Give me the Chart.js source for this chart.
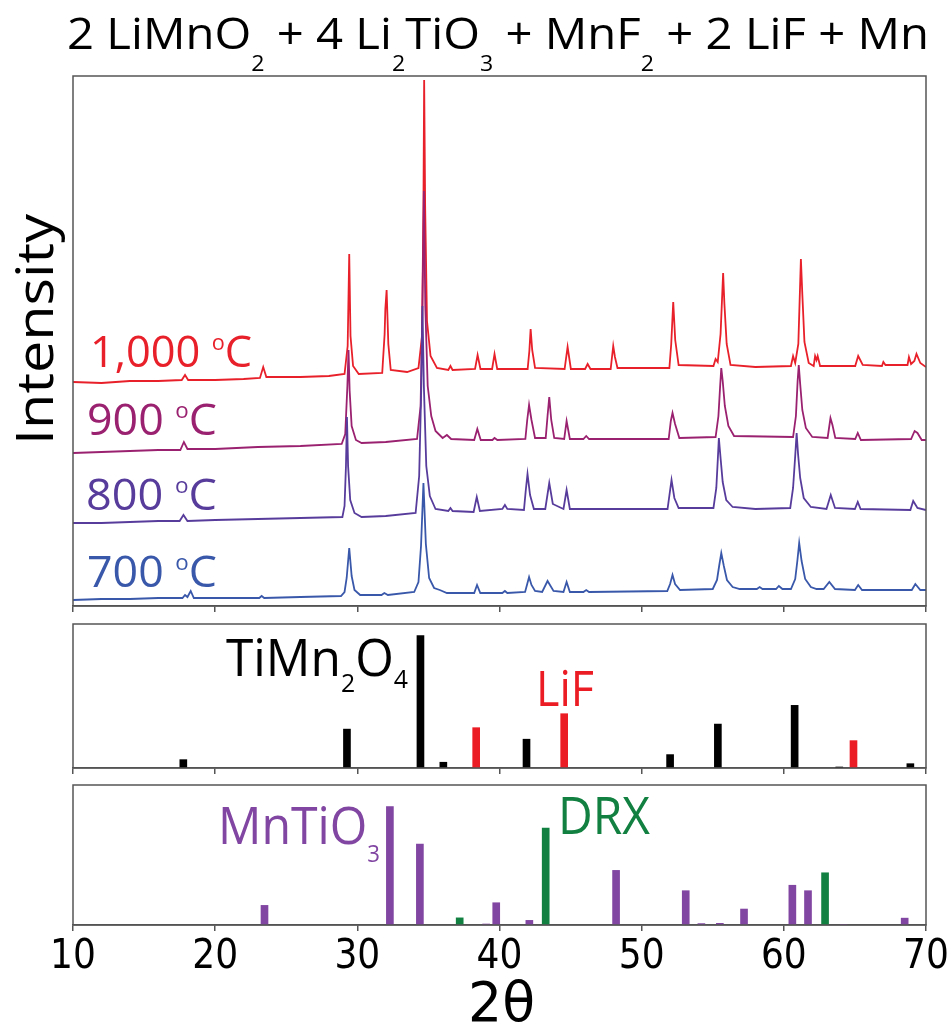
<!DOCTYPE html>
<html>
<head>
<meta charset="utf-8">
<script src="https://cdn.jsdelivr.net/npm/chart.js@4.4.1/dist/chart.umd.min.js"></script>
<style>
  html, body { margin: 0; padding: 0; background: #fff; }
  #wrap { position: relative; width: 952px; height: 1026px; overflow: hidden; }
  canvas { position: absolute; left: 0; }
  .lbl { position: absolute; white-space: nowrap; line-height: 1; font-family: "Open Sans", "Noto Sans", sans-serif; transform-origin: 0 0; }
  .lbl sub, .lbl sup { line-height: 0; }
</style>
</head>
<body>
<div id="wrap">
  <canvas id="scans" width="952" height="612" style="top:0"></canvas>
  <canvas id="refA" width="952" height="160" style="top:614px"></canvas>
  <canvas id="refB" width="952" height="210" style="top:775px"></canvas>
</div>
<script>
// 2θ axis shared by all three panels
const xMin = 10;
const xMax = 70;
const xTicks = [10, 20, 30, 40, 50, 60, 70];

// measured scans, [2θ, intensity incl. stacking offset]
const scan1000 = [[10,224],[12,223],[14,225],[16,225],[17.65,226],[17.88,231],[18.1,226],[20,226],[22,227],[23.15,228],[23.38,239],[23.6,229],[26,229],[28,230],[29.1,232],[29.32,260],[29.43,352],[29.52,270],[29.7,240],[30.1,232],[31.75,233],[31.92,272],[31.97,297],[32.06,316],[32.18,262],[32.35,236],[33.5,234],[34.3,238],[34.55,270],[34.65,400],[34.7,526],[34.77,400],[34.9,285],[35.15,250],[35.6,238],[36.4,236],[36.55,240],[36.7,236],[38.28,237],[38.46,251],[38.66,237],[39.48,237],[39.65,252],[39.84,237],[41.98,237],[42.1,255],[42.19,277],[42.3,256],[42.5,238],[44.58,237],[44.79,259],[45.02,237],[46.02,237],[46.2,242],[46.4,237],[47.82,237],[48.0,260],[48.12,249],[48.3,238],[51.95,238],[52.08,262],[52.22,304],[52.36,266],[52.6,241],[55.05,240],[55.2,247],[55.35,244],[55.55,272],[55.73,333],[55.82,302],[55.98,262],[56.25,241],[58,239],[60.5,240],[60.65,250],[60.8,243],[61.02,262],[61.2,347],[61.3,312],[61.45,264],[61.75,243],[62.1,240],[62.2,250],[62.3,246],[62.38,250],[62.55,240],[65.02,240],[65.23,250],[65.55,241],[66.9,240],[67.0,244],[67.15,241],[68.7,241],[68.8,249],[68.95,242],[69.18,245],[69.33,252],[69.6,243],[70,239]];
const scan900 = [[10,153],[12,154],[14,155],[16,156],[17.55,156],[17.8,164],[18.05,157],[20,157],[23,159],[26,160],[28.9,162],[29.15,172],[29.3,220],[29.38,256],[29.46,215],[29.6,180],[29.9,166],[30.3,163],[32,164],[34.2,167],[34.45,200],[34.58,300],[34.68,415],[34.78,300],[34.95,220],[35.2,190],[35.5,175],[36,168],[36.3,171],[36.6,167],[38.22,166],[38.44,177],[38.68,166],[39.5,166],[39.65,168],[39.85,166],[41.82,167],[41.95,186],[42.08,201],[42.25,186],[42.5,168],[43.25,168],[43.38,190],[43.5,209],[43.64,186],[43.85,168],[44.55,167],[44.72,185],[44.95,167],[45.9,167],[46.1,170],[46.3,167],[51.9,167],[52.05,185],[52.17,193],[52.35,182],[52.65,168],[55.2,169],[55.4,190],[55.52,220],[55.6,238],[55.7,225],[55.85,200],[56.1,180],[56.5,170],[60.65,169],[60.85,190],[60.97,225],[61.05,241],[61.15,222],[61.3,196],[61.55,178],[62.0,169],[63.08,168],[63.28,188],[63.42,181],[63.62,168],[65.02,167],[65.2,173],[65.42,166],[68.95,167],[69.2,175],[69.4,173],[69.7,166],[70,166]];
const scan800 = [[10,83],[12,83],[14,84],[16,85],[17.5,85],[17.77,91],[18.05,85],[20,86],[23,87],[26,88],[28.95,89],[29.1,100],[29.2,140],[29.27,189],[29.35,140],[29.5,106],[29.8,93],[30.3,89],[32,90],[34.1,93],[34.35,130],[34.5,220],[34.58,300],[34.68,220],[34.85,140],[35.1,110],[35.5,97],[36.4,95],[36.55,98],[36.7,95],[38.18,94],[38.4,109],[38.62,95],[40.2,97],[40.38,101],[40.55,97],[41.72,96],[41.85,116],[41.97,132],[42.15,111],[42.42,97],[43.22,97],[43.5,123],[43.75,102],[44.5,97],[44.72,116],[44.95,97],[46,97],[51.82,97],[52.1,126],[52.3,108],[52.6,98],[55.05,98],[55.25,118],[55.35,145],[55.43,168],[55.55,148],[55.7,124],[55.95,106],[56.4,99],[58,97],[60.45,98],[60.65,118],[60.8,150],[60.9,173],[61.0,152],[61.15,128],[61.4,108],[61.9,99],[63.0,97],[63.3,111],[63.6,98],[65.0,97],[65.2,104],[65.4,97],[68.9,96],[69.1,105],[69.4,98],[70,96]];
const scan700 = [[10,6],[12,7],[14,7],[16,8],[17.7,8],[17.88,11],[18.05,9],[18.28,15],[18.5,8],[20,8],[23.1,8],[23.27,10],[23.45,8],[26,9],[28.85,10],[29.1,14],[29.25,28],[29.43,58],[29.6,30],[29.8,16],[30.2,11],[31.7,11],[31.9,13],[32.15,11],[34.0,14],[34.3,24],[34.48,60],[34.65,123],[34.82,62],[35.05,28],[35.4,18],[35.8,16],[36.3,13],[38.22,13],[38.42,21],[38.65,13],[40.2,13],[40.38,15],[40.55,13],[41.8,14],[41.95,22],[42.08,29],[42.25,21],[42.5,15],[43.0,14],[43.38,25],[43.8,15],[44.5,14],[44.72,24],[44.95,14],[45.9,14],[46.1,16],[46.3,14],[51.8,15],[52.0,22],[52.17,31],[52.35,22],[52.7,16],[55.0,17],[55.3,26],[55.45,40],[55.6,53],[55.78,40],[56.0,26],[56.4,19],[56.9,17],[58.1,17],[58.3,19],[58.5,17],[59.45,17],[59.65,20],[59.9,17],[60.5,17],[60.8,27],[60.95,45],[61.08,63],[61.25,45],[61.5,27],[61.9,19],[62.3,17],[62.8,17],[63.2,24],[63.6,17],[65.0,16],[65.23,21],[65.5,16],[69.0,16],[69.25,22],[69.6,16],[70,16]];

// reference patterns: peak positions (2θ) and relative intensities (%)
const timn2o4Pos = [17.76, 29.27, 34.44, 36.05, 41.9, 52.0, 55.36, 60.76, 63.9, 68.9];
const timn2o4Int = [5.8, 27, 92, 4, 20, 9.3, 30.5, 43.5, 0.7, 3];
const lifPos = [38.36, 44.55, 64.9];
const lifInt = [28, 37.7, 19];
const mntio3Pos = [23.47, 32.29, 34.4, 39.06, 39.77, 42.1, 48.2, 53.1, 54.2, 55.5, 57.2, 60.6, 61.7, 64.2, 68.5];
const mntio3Int = [14, 84.6, 57.8, 0.7, 15.9, 3.3, 39, 24.5, 1, 1.2, 11.4, 28.4, 24.5, 0.5, 4.9];
const drxPos = [37.2, 43.25, 62.9];
const drxInt = [5.1, 69.2, 37.3];

const colors = {
  c1000: '#e8202a',
  c900: '#9a216f',
  c800: '#583c9c',
  c700: '#3a58aa',
  black: '#000000',
  lif: '#ec1c24',
  mntio3: '#8145a2',
  drx: '#118040',
  axis: '#555555'
};

const toXY = (pts) => pts.map(([x, y]) => ({ x: x, y: y }));
const sticks = (pos, ints) => pos.map((x, i) => ({ x: x, y: ints[i] }));

// grey box round each plot area
const frame = {
  id: 'frame',
  afterDraw(chart) {
    const { ctx, chartArea: a } = chart;
    ctx.save();
    ctx.strokeStyle = colors.axis;
    ctx.lineWidth = 1.5;
    ctx.strokeRect(a.left, a.top, a.right - a.left, a.bottom - a.top);
    ctx.restore();
  }
};

function xAxis(withLabels) {
  return {
    type: 'linear',
    min: xMin,
    max: xMax,
    offset: false,
    afterBuildTicks: (s) => { s.ticks = xTicks.map(v => ({ value: v })); },
    afterFit: (s) => { s.paddingLeft = 0; s.paddingRight = 0; },
    grid: { offset: false, drawOnChartArea: false, drawTicks: true, tickLength: 6, color: colors.axis, lineWidth: 1.5 },
    border: { display: true, color: colors.axis, width: 1.5 },
    ticks: {
      display: withLabels,
      color: '#000',
      padding: 3,
      maxRotation: 0,
      font: { family: '"DejaVu Sans Condensed", "DejaVu Sans", sans-serif', size: 40, lineHeight: 1.2 }
    }
  };
}

function yAxis(max) {
  return { type: 'linear', display: false, min: 0, max: max };
}

const common = {
  responsive: false,
  animation: false,
  devicePixelRatio: 1,
  plugins: { legend: { display: false }, tooltip: { enabled: false } }
};

function line(data, color) {
  return { data: toXY(data), borderColor: color, borderWidth: 1.8, pointRadius: 0, tension: 0, fill: false };
}

// stacked scans, lowest temperature drawn on top
new Chart(document.getElementById('scans'), {
  type: 'line',
  data: {
    datasets: [
      line(scan700, colors.c700),
      line(scan800, colors.c800),
      line(scan900, colors.c900),
      line(scan1000, colors.c1000)
    ]
  },
  options: Object.assign({}, common, {
    layout: { padding: { left: 73, right: 26, top: 76, bottom: 0 } },
    scales: { x: xAxis(false), y: yAxis(530) }
  }),
  plugins: [frame]
});

function bars(pos, ints, color) {
  return { data: sticks(pos, ints), backgroundColor: color, barThickness: 7, grouped: false };
}

new Chart(document.getElementById('refA'), {
  type: 'bar',
  data: {
    datasets: [
      bars(timn2o4Pos, timn2o4Int, colors.black),
      bars(lifPos, lifInt, colors.lif)
    ]
  },
  options: Object.assign({}, common, {
    layout: { padding: { left: 73, right: 26, top: 10, bottom: 0 } },
    scales: { x: xAxis(false), y: yAxis(100) }
  }),
  plugins: [frame]
});

new Chart(document.getElementById('refB'), {
  type: 'bar',
  data: {
    datasets: [
      bars(mntio3Pos, mntio3Int, colors.mntio3),
      bars(drxPos, drxInt, colors.drx)
    ]
  },
  options: Object.assign({}, common, {
    layout: { padding: { left: 73, right: 26, top: 10, bottom: 0 } },
    scales: { x: xAxis(true), y: yAxis(100) }
  }),
  plugins: [frame]
});

// text labels: html, left, baseline, font size, fitted width, colour
const wrap = document.getElementById('wrap');
function label(html, left, base, size, width, color, font) {
  const el = document.createElement('div');
  el.className = 'lbl';
  el.innerHTML = html;
  el.style.fontSize = size + 'px';
  el.style.color = color;
  if (font) el.style.fontFamily = font;
  const mark = document.createElement('span');
  mark.style.cssText = 'display:inline-block;width:0;height:0;vertical-align:baseline';
  el.appendChild(mark);
  wrap.appendChild(el);
  el.style.left = left + 'px';
  el.style.top = '0px';
  const off = mark.getBoundingClientRect().top - el.getBoundingClientRect().top;
  el.style.top = (base - off) + 'px';
  const w = el.getBoundingClientRect().width;
  return { el: el, off: off, sx: width / w };
}
function flat(html, left, base, size, width, color, font) {
  const l = label(html, left, base, size, width, color, font);
  l.el.style.transformOrigin = '0px ' + l.off + 'px';
  l.el.style.transform = 'scaleX(' + l.sx + ')';
}

const sub = (t, f, d) => '<sub style="font-size:' + f + 'em;vertical-align:-' + d + 'em">' + t + '</sub>';
const deg = '<sup style="font-size:0.5em;vertical-align:0.78em">o</sup>';

flat('2 LiMnO' + sub('2', 0.49, 1) + ' + 4 Li' + sub('2', 0.49, 1) + 'TiO' + sub('3', 0.49, 1) +
     ' + MnF' + sub('2', 0.49, 1) + ' + 2 LiF + Mn', 67, 49, 44, 862, '#000');

flat('1,000 ' + deg + 'C', 90, 367, 44, 162, colors.c1000);
flat('900 ' + deg + 'C', 87, 435, 44, 130, colors.c900);
flat('800 ' + deg + 'C', 86, 510, 44, 131, colors.c800);
flat('700 ' + deg + 'C', 87, 587, 44, 130, colors.c700);

flat('TiMn' + sub('2', 0.5, 0.6) + 'O' + sub('4', 0.5, 0.45), 226, 676, 52, 182, colors.black);
flat('LiF', 536, 706, 50, 58, colors.lif);
flat('MnTiO' + sub('3', 0.46, 0.75), 218, 844, 51, 162, colors.mntio3);
flat('DRX', 558, 834, 51, 92, colors.drx);

flat('2θ', 468, 1021, 55, 67, '#000', '"DejaVu Sans Condensed", "DejaVu Sans", sans-serif');

// rotated intensity label, baseline on x = 53, reading upwards from y = 445
const yl = label('Intensity', 53, 445, 52, 231, '#000');
yl.el.style.transformOrigin = '0px ' + yl.off + 'px';
yl.el.style.transform = 'rotate(-90deg) scaleX(' + yl.sx + ')';
</script>
</body>
</html>
